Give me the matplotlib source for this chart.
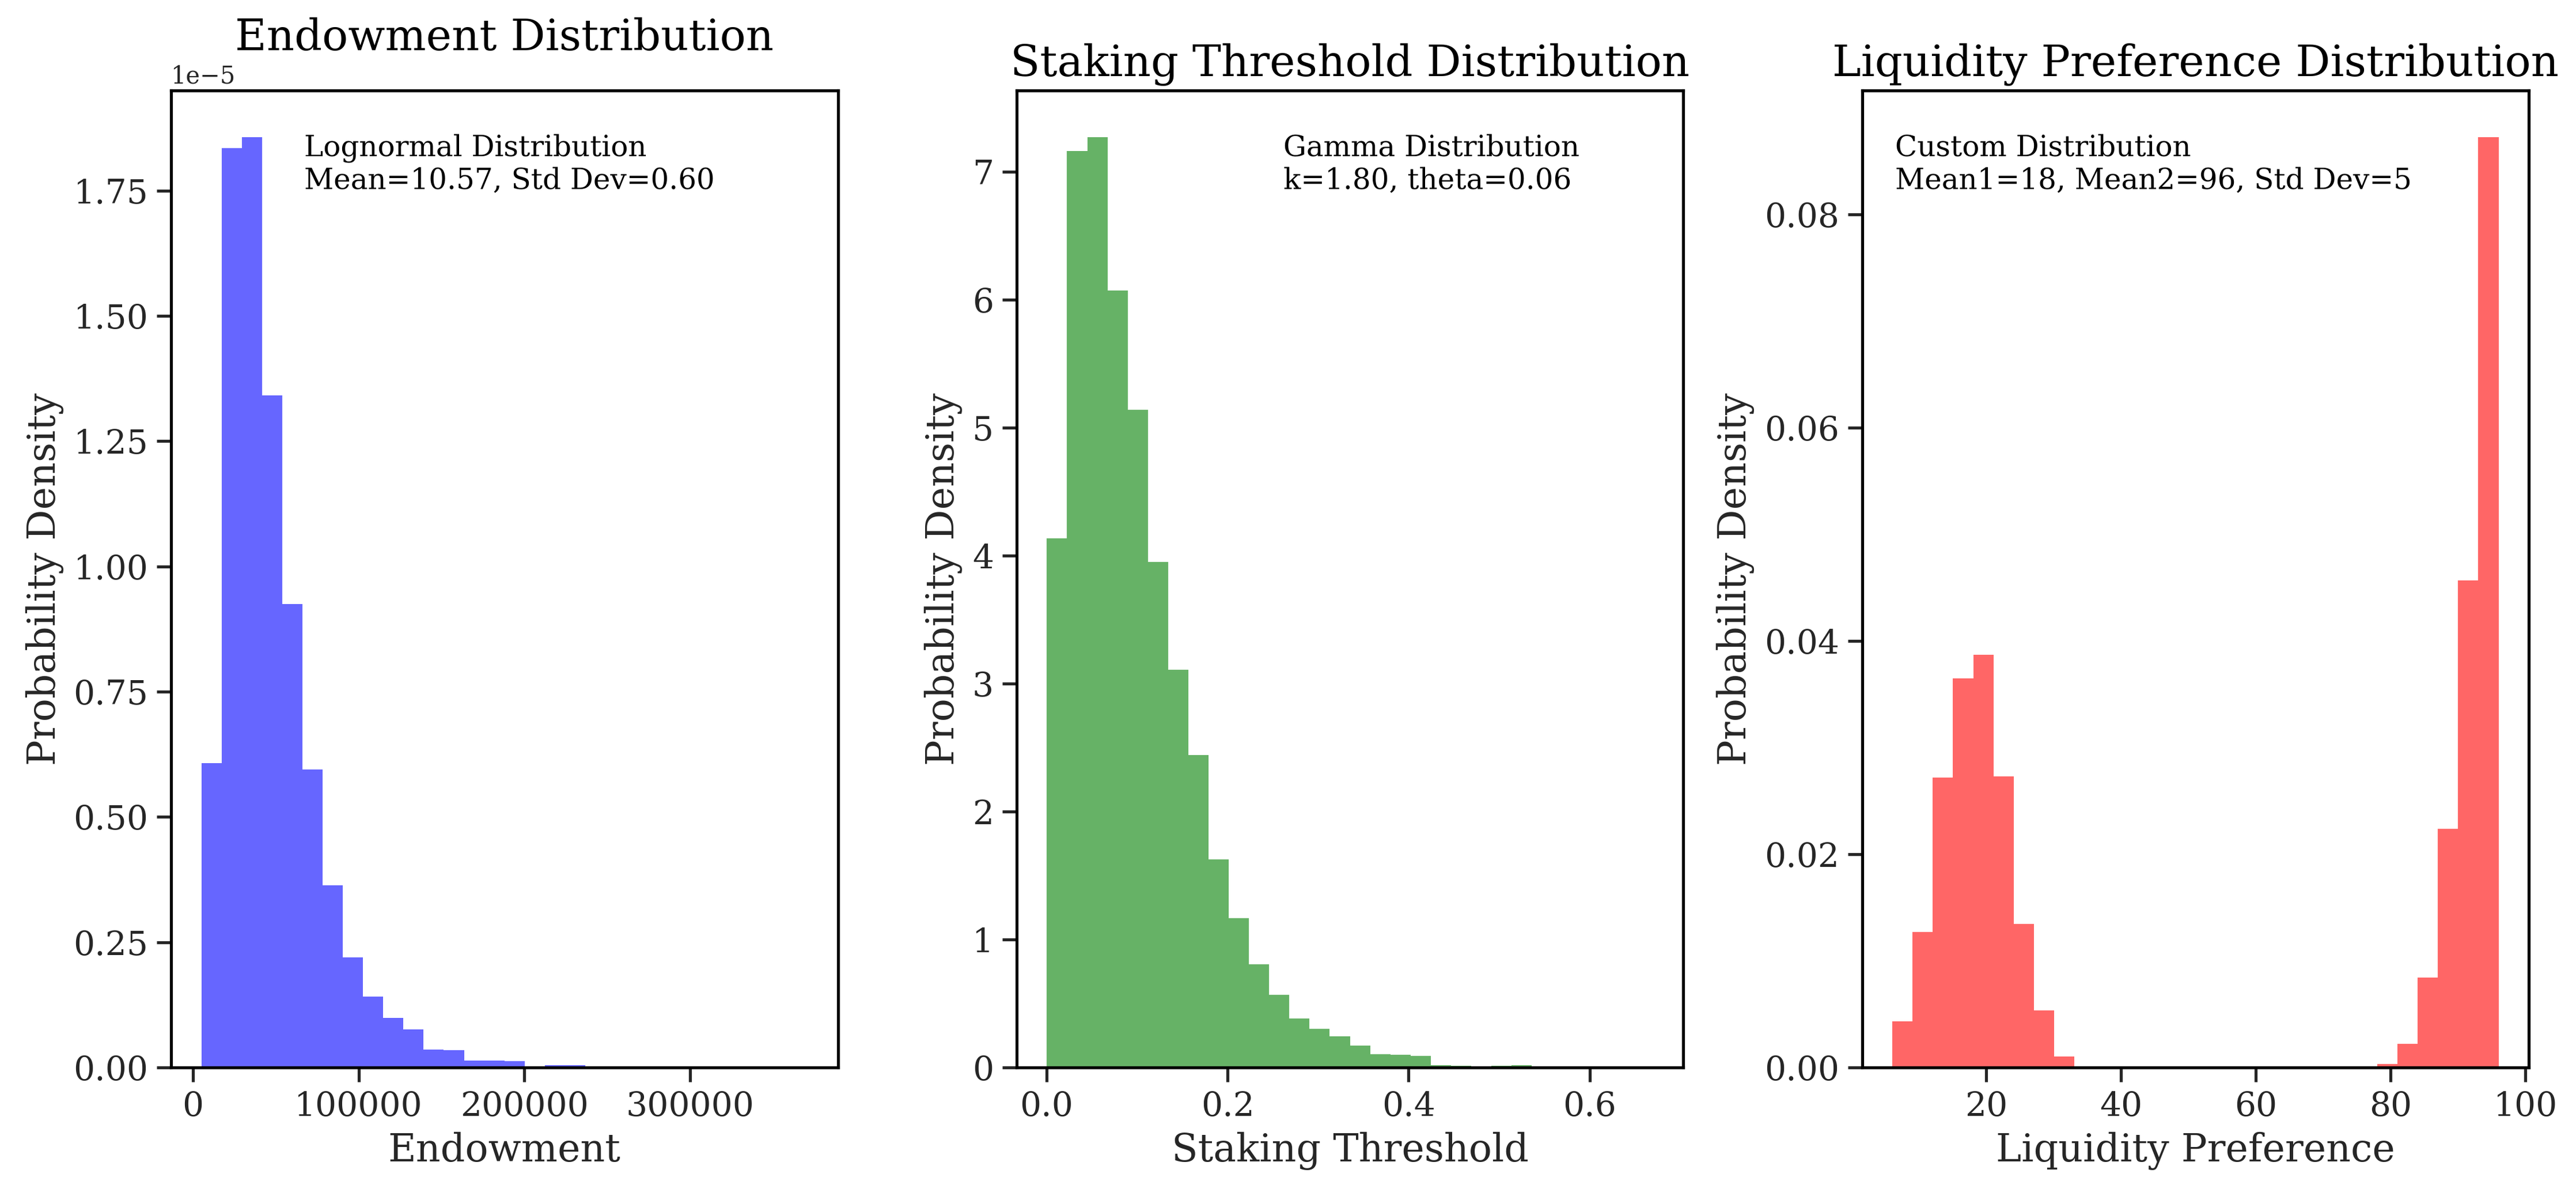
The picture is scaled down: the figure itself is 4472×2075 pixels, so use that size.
import numpy as np
import matplotlib
matplotlib.use("Agg")
import matplotlib.pyplot as plt

# --- data (30 bins per panel, density heights) ---
endow_range = (5000, 371000)
endow_density_e5 = [0.607, 1.835, 1.857, 1.341, 0.925, 0.595, 0.364, 0.220, 0.1415, 0.099,
                    0.076, 0.036, 0.0346, 0.0138, 0.0138, 0.0127, 0.0, 0.0046, 0.0046, 0.0,
                    0.0, 0.0, 0.0, 0.0, 0.0, 0.0, 0.0, 0.0, 0.0, 0.0005]

stake_range = (0.0003, 0.6700)
stake_density = [4.133, 7.16, 7.27, 6.07, 5.14, 3.95, 3.108, 2.44, 1.627, 1.167,
                 0.806, 0.565, 0.383, 0.300, 0.241, 0.173, 0.1036, 0.099, 0.090, 0.018,
                 0.0135, 0.0, 0.0135, 0.018, 0.0, 0.0, 0.0, 0.0, 0.0, 0.002]

liq_range = (6.1, 96.0)
liq_density = [0.00433, 0.0127, 0.0272, 0.0365, 0.0387, 0.0273, 0.01344, 0.00537, 0.00104, 0.0,
               0.0, 0.0, 0.0, 0.0, 0.0, 0.0, 0.0, 0.0, 0.0, 0.0,
               0.0, 0.0, 0.0, 0.0, 0.0003, 0.00219, 0.00844, 0.0224, 0.0457, 0.08726]

titles = ["Endowment Distribution", "Staking Threshold Distribution", "Liquidity Preference Distribution"]
xlabels = ["Endowment", "Staking Threshold", "Liquidity Preference"]
notes = ["Lognormal Distribution\nMean=10.57, Std Dev=0.60",
         "Gamma Distribution\nk=1.80, theta=0.06",
         "Custom Distribution\nMean1=18, Mean2=96, Std Dev=5"]
note_x = [0.2, 0.4, 0.05]
colors = ["blue", "green", "red"]

plt.rcParams.update({
    "font.family": "serif",
    "font.serif": ["DejaVu Serif"],
    "axes.edgecolor": "black",
    "axes.linewidth": 1.25,
    "axes.labelcolor": ".15",
    "xtick.color": ".15",
    "ytick.color": ".15",
    "xtick.direction": "out",
    "ytick.direction": "out",
    "xtick.major.size": 6,
    "ytick.major.size": 6,
    "xtick.major.width": 1.25,
    "ytick.major.width": 1.25,
})

fig, axes = plt.subplots(1, 3, figsize=(4472 / 300, 2075 / 300), dpi=300)
fig.subplots_adjust(left=0.0664, right=0.9817, bottom=0.1075, top=0.9243, wspace=0.268)

series = [
    (endow_range, np.array(endow_density_e5) * 1e-5),
    (stake_range, np.array(stake_density)),
    (liq_range, np.array(liq_density)),
]

for i, (ax, (rng, dens)) in enumerate(zip(axes, series)):
    edges = np.linspace(rng[0], rng[1], len(dens) + 1)
    ax.hist(edges[:-1], bins=edges, weights=dens, color=colors[i], alpha=0.6)
    ax.set_title(titles[i], fontsize=18, color="black")
    ax.set_xlabel(xlabels[i], fontsize=16)
    ax.set_ylabel("Probability Density", fontsize=16)
    ax.tick_params(axis="both", labelsize=14)
    ax.text(note_x[i], 0.956, notes[i], transform=ax.transAxes, va="top", ha="left",
            fontsize=12, color="black")

axes[0].set_xticks([0, 100000, 200000, 300000])
axes[0].yaxis.get_offset_text().set_color(".15")

fig.savefig("out.png", dpi=300)
